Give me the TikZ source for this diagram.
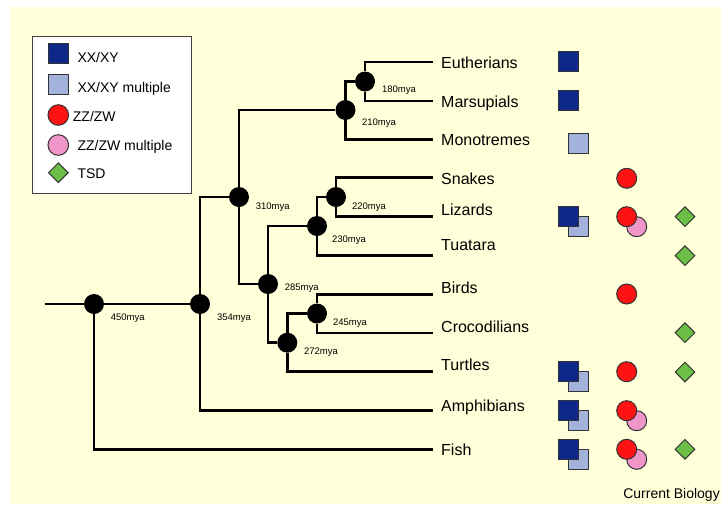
\documentclass[tikz,border=0pt]{standalone}
\usepackage{fontspec}
\setmainfont{Liberation Sans}
\usepackage{tikz}
\usetikzlibrary{shapes.geometric}

\definecolor{bgyellow}{RGB}{255,255,218}
\definecolor{xyblue}{RGB}{14,40,138}
\definecolor{xymulti}{RGB}{163,178,218}
\definecolor{zwred}{RGB}{255,18,18}
\definecolor{zwmulti}{RGB}{240,150,200}
\definecolor{tsdgreen}{RGB}{108,190,70}

\begin{document}
\begin{tikzpicture}[x=1pt,y=-1pt,
  clade/.style={circle, fill=black, inner sep=0pt, minimum size=20pt},
  branch/.style={line width=2.5pt},
  taxon/.style={anchor=base west, inner sep=0pt, font=\fontsize{16}{19}\selectfont},
  age/.style={anchor=base, inner sep=0pt, font=\fontsize{9.5}{11}\selectfont},
  keytext/.style={anchor=base west, inner sep=0pt, font=\fontsize{14}{16}\selectfont},
  sdmark/.style={draw=black!80, line width=1pt, inner sep=0pt},
  xy/.style={sdmark, rectangle, fill=xyblue, minimum size=20pt},
  xym/.style={sdmark, rectangle, fill=xymulti, minimum size=20pt},
  zw/.style={sdmark, circle, fill=zwred, minimum size=20pt},
  zwm/.style={sdmark, circle, fill=zwmulti, minimum size=20pt},
  tsd/.style={sdmark, diamond, aspect=1, fill=tsdgreen, minimum size=20pt}]

\useasboundingbox (0,0) rectangle (721,504);
\fill[bgyellow] (10,7) rectangle (721,504);

% legend
\node[draw=black!75, line width=1.2pt, fill=white, minimum width=159pt, minimum height=157pt, inner sep=0pt] (legend) at (112.2,114.6) {};
\node[xy] (k1) at (58.7,53.7) {};
\node[xym] (k2) at (58.7,84) {};
\node[zw, minimum size=20.6pt] (k3) at (58.3,115) {};
\node[zwm, minimum size=20.6pt] (k4) at (58.3,145) {};
\node[tsd] (k5) at (58.3,172.7) {};
\node[keytext] (l1) at (77.3,62.7) {XX/XY};
\node[keytext] (l2) at (77.3,92.3) {XX/XY multiple};
\node[keytext] (l3) at (72.7,121.7) {ZZ/ZW};
\node[keytext] (l4) at (77.3,150) {ZZ/ZW multiple};
\node[keytext] (l5) at (77.3,178.3) {TSD};

% tips
\coordinate (t1) at (433,62);
\coordinate (t2) at (433,101);
\coordinate (t3) at (433,139.4);
\coordinate (t4) at (433,177.5);
\coordinate (t5) at (433,216.7);
\coordinate (t6) at (433,255.7);
\coordinate (t7) at (433,294.3);
\coordinate (t8) at (433,332.8);
\coordinate (t9) at (433,371.7);
\coordinate (t10) at (433,410.7);
\coordinate (t11) at (433,449.3);
\coordinate (root) at (44.7,304);

\node[taxon] (eut) at (441,68.3) {Eutherians};
\node[taxon] (mar) at (441,107.3) {Marsupials};
\node[taxon] (mon) at (441,145.7) {Monotremes};
\node[taxon] (sna) at (441,184) {Snakes};
\node[taxon] (liz) at (441,215.7) {Lizards};
\node[taxon] (tua) at (441,250.7) {Tuatara};
\node[taxon] (bir) at (441,293.3) {Birds};
\node[taxon] (cro) at (441,332.3) {Crocodilians};
\node[taxon] (tur) at (441,370.7) {Turtles};
\node[taxon] (amp) at (441,411.5) {Amphibians};
\node[taxon] (fis) at (441,455.5) {Fish};

% divergence points
\node[clade] (n180) at (365,81.5) {};
\node[clade] (n210) at (345.5,110) {};
\node[clade] (n310) at (239,197) {};
\node[clade] (n220) at (336,197) {};
\node[clade] (n230) at (317,226) {};
\node[clade] (n285) at (268,284) {};
\node[clade] (n245) at (317,313.5) {};
\node[clade] (n272) at (287.3,342.7) {};
\node[clade] (n354) at (200,304) {};
\node[clade] (n450) at (94,304) {};

\draw[branch] (root) -- (n450) -- (n354);
\draw[branch] (n450) |- (t11);
\draw[branch] (n354) |- (n310);
\draw[branch] (n354) |- (t10);
\draw[branch] (n310) |- (n210);
\draw[branch] (n310) |- (n285);
\draw[branch] (n210) |- (n180);
\draw[branch] (n210) |- (t3);
\draw[branch] (n180) |- (t1);
\draw[branch] (n180) |- (t2);
\draw[branch] (n285) |- (n230);
\draw[branch] (n285) |- (n272);
\draw[branch] (n230) |- (n220);
\draw[branch] (n230) |- (t6);
\draw[branch] (n220) |- (t4);
\draw[branch] (n220) |- (t5);
\draw[branch] (n272) |- (n245);
\draw[branch] (n272) |- (t9);
\draw[branch] (n245) |- (t7);
\draw[branch] (n245) |- (t8);

\node[age] (a180) at (399,92.4) {180mya};
\node[age] (a210) at (379,125.4) {210mya};
\node[age] (a310) at (272.7,209.1) {310mya};
\node[age] (a220) at (369,209.1) {220mya};
\node[age] (a230) at (349,242.4) {230mya};
\node[age] (a285) at (301.7,290.7) {285mya};
\node[age] (a245) at (350,325.1) {245mya};
\node[age] (a272) at (321,354.1) {272mya};
\node[age] (a354) at (234,320.1) {354mya};
\node[age] (a450) at (127.7,320.1) {450mya};

% sex determination per group
\node[xy] (s1) at (568.3,61.7) {};
\node[xy] (s2) at (568.3,100.5) {};
\node[xym] (s3) at (578.3,143.3) {};
\node[zw] (c4) at (626.7,178.3) {};
\node[xym] (m5) at (578.3,226.7) {};
\node[xy] (s5) at (568.3,216.7) {};
\node[zwm] (p5) at (636.7,226.7) {};
\node[zw] (c5) at (626.7,216.7) {};
\node[tsd] (d5) at (685,216.7) {};
\node[tsd] (d6) at (685,255.7) {};
\node[zw] (c7) at (626.7,294) {};
\node[tsd] (d8) at (685,332.7) {};
\node[xym] (m9) at (578.3,381.7) {};
\node[xy] (s9) at (568.3,371.7) {};
\node[zw] (c9) at (626.7,371.7) {};
\node[tsd] (d9) at (685,372) {};
\node[xym] (m10) at (578.3,420.7) {};
\node[xy] (s10) at (568.3,410.7) {};
\node[zwm] (p10) at (636.7,420.7) {};
\node[zw] (c10) at (626.7,410.7) {};
\node[xym] (m11) at (578.3,459.3) {};
\node[xy] (s11) at (568.3,449.3) {};
\node[zwm] (p11) at (636.7,459.3) {};
\node[zw] (c11) at (626.7,449.3) {};
\node[tsd] (d11) at (685,449.3) {};

\node[anchor=base east, inner sep=0pt, font=\fontsize{14}{16}\selectfont] (credit) at (720,498) {Current Biology};
\end{tikzpicture}
\end{document}
